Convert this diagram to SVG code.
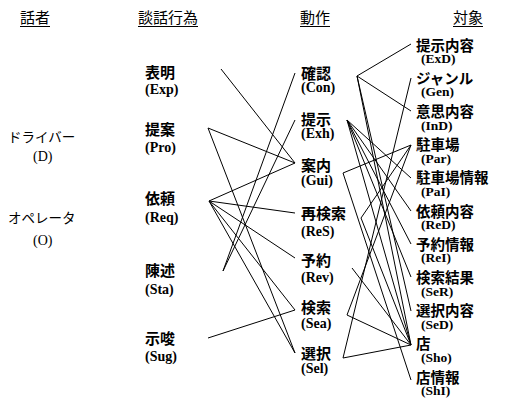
<svg xmlns="http://www.w3.org/2000/svg" width="521" height="400" viewBox="0 0 521 400">
<style>
.h{font-family:"Noto Sans CJK JP","Noto Sans CJK SC",sans-serif;font-size:15px;fill:#000}
.sp{font-family:"Noto Sans CJK JP","Noto Sans CJK SC",sans-serif;font-size:13.5px;fill:#000}
.spl{font-family:"Liberation Serif",serif;font-size:14px;fill:#000}
.j{font-family:"Noto Sans CJK JP","Noto Sans CJK SC",sans-serif;font-size:15px;font-weight:bold;fill:#000}
.jo{font-family:"Noto Sans CJK JP","Noto Sans CJK SC",sans-serif;font-size:14.5px;font-weight:bold;fill:#000}
.l{font-family:"Liberation Serif",serif;font-size:14px;font-weight:bold;fill:#000}
.lo{font-family:"Liberation Serif",serif;font-size:13.5px;font-weight:bold;fill:#000}
.ul{stroke:#000;stroke-width:1}
#connectors line{stroke:#000;stroke-width:1}
</style>
<rect width="521" height="400" fill="#fff"/>
<g id="headers">
<text class="h" x="20" y="23">話者</text><line class="ul" x1="20" y1="26.5" x2="50" y2="26.5"/>
<text class="h" x="138" y="23">談話行為</text><line class="ul" x1="138" y1="26.5" x2="198" y2="26.5"/>
<text class="h" x="300" y="23">動作</text><line class="ul" x1="300" y1="26.5" x2="330" y2="26.5"/>
<text class="h" x="453" y="23">対象</text><line class="ul" x1="453" y1="26.5" x2="483" y2="26.5"/>
</g>
<g id="D"><text class="sp" x="8" y="142">ドライバー</text><text class="spl" x="33" y="161">(D)</text></g>
<g id="O"><text class="sp" x="8" y="223">オペレータ</text><text class="spl" x="33" y="245">(O)</text></g>
<g id="Exp"><text class="j" x="145" y="78">表明</text><text class="l" x="145" y="94">(Exp)</text></g>
<g id="Pro"><text class="j" x="145" y="135">提案</text><text class="l" x="145" y="152">(Pro)</text></g>
<g id="Req"><text class="j" x="145" y="204">依頼</text><text class="l" x="145" y="222">(Req)</text></g>
<g id="Sta"><text class="j" x="145" y="276">陳述</text><text class="l" x="145" y="294">(Sta)</text></g>
<g id="Sug"><text class="j" x="145" y="344">示唆</text><text class="l" x="145" y="361">(Sug)</text></g>
<g id="Con"><text class="j" x="301" y="79">確認</text><text class="l" x="301" y="92">(Con)</text></g>
<g id="Exh"><text class="j" x="301" y="125">提示</text><text class="l" x="301" y="138">(Exh)</text></g>
<g id="Gui"><text class="j" x="301" y="171">案内</text><text class="l" x="301" y="185">(Gui)</text></g>
<g id="ReS"><text class="j" x="301" y="219">再検索</text><text class="l" x="301" y="236">(ReS)</text></g>
<g id="Rev"><text class="j" x="301" y="266">予約</text><text class="l" x="301" y="282">(Rev)</text></g>
<g id="Sea"><text class="j" x="301" y="313">検索</text><text class="l" x="301" y="328">(Sea)</text></g>
<g id="Sel"><text class="j" x="301" y="359">選択</text><text class="l" x="301" y="373">(Sel)</text></g>
<g id="ExD"><text class="jo" x="416" y="50.5">提示内容</text><text class="lo" x="421" y="63">(ExD)</text></g>
<g id="Gen"><text class="jo" x="416" y="84">ジャンル</text><text class="lo" x="421" y="96">(Gen)</text></g>
<g id="InD"><text class="jo" x="416" y="117">意思内容</text><text class="lo" x="421" y="129.5">(InD)</text></g>
<g id="Par"><text class="jo" x="416" y="150">駐車場</text><text class="lo" x="421" y="162.5">(Par)</text></g>
<g id="PaI"><text class="jo" x="416" y="183">駐車場情報</text><text class="lo" x="421" y="195.5">(PaI)</text></g>
<g id="ReD"><text class="jo" x="416" y="216.5">依頼内容</text><text class="lo" x="421" y="229">(ReD)</text></g>
<g id="ReI"><text class="jo" x="416" y="249.5">予約情報</text><text class="lo" x="421" y="262">(ReI)</text></g>
<g id="SeR"><text class="jo" x="416" y="283">検索結果</text><text class="lo" x="421" y="295.5">(SeR)</text></g>
<g id="SeD"><text class="jo" x="416" y="316">選択内容</text><text class="lo" x="421" y="328.5">(SeD)</text></g>
<g id="Sho"><text class="jo" x="416" y="349">店</text><text class="lo" x="421" y="362">(Sho)</text></g>
<g id="ShI"><text class="jo" x="416" y="382.5">店情報</text><text class="lo" x="421" y="395">(ShI)</text></g>
<g id="connectors">
<line x1="221" y1="69" x2="295" y2="163"/>
<line x1="208" y1="128" x2="295" y2="163"/>
<line x1="208" y1="128" x2="295" y2="353"/>
<line x1="209" y1="201" x2="295" y2="163"/>
<line x1="209" y1="201" x2="295" y2="213"/>
<line x1="209" y1="201" x2="295" y2="258"/>
<line x1="209" y1="201" x2="295" y2="310"/>
<line x1="209" y1="201" x2="295" y2="353"/>
<line x1="223" y1="271" x2="295" y2="73"/>
<line x1="223" y1="271" x2="295" y2="120"/>
<line x1="208" y1="338" x2="295" y2="310"/>
<line x1="357" y1="76" x2="411" y2="44"/>
<line x1="357" y1="76" x2="411" y2="111"/>
<line x1="357" y1="76" x2="411" y2="311"/>
<line x1="357" y1="76" x2="411" y2="345"/>
<line x1="347" y1="120" x2="411" y2="178"/>
<line x1="347" y1="120" x2="411" y2="211"/>
<line x1="347" y1="120" x2="411" y2="244"/>
<line x1="347" y1="120" x2="411" y2="277"/>
<line x1="347" y1="120" x2="411" y2="345"/>
<line x1="343" y1="173" x2="411" y2="145"/>
<line x1="343" y1="173" x2="411" y2="380"/>
<line x1="361" y1="218" x2="411" y2="145"/>
<line x1="361" y1="218" x2="411" y2="345"/>
<line x1="352" y1="268" x2="411" y2="345"/>
<line x1="347" y1="315" x2="411" y2="145"/>
<line x1="347" y1="315" x2="411" y2="345"/>
<line x1="343" y1="358" x2="411" y2="78"/>
<line x1="343" y1="358" x2="411" y2="345"/>
</g>
</svg>
